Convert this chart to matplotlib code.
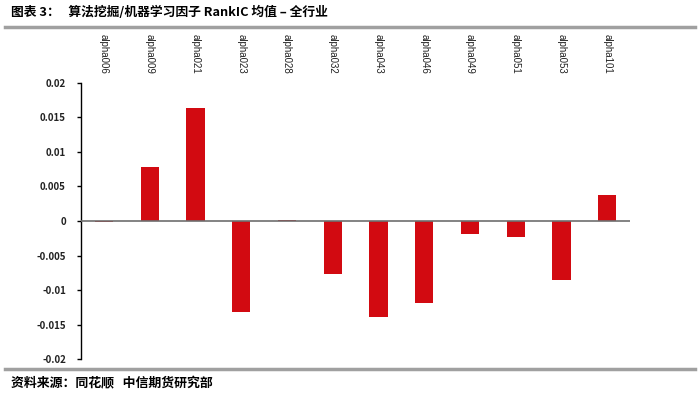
import matplotlib
matplotlib.use('Agg')
import matplotlib.pyplot as plt
from matplotlib.lines import Line2D

plt.rcParams['font.family'] = ['Noto Sans CJK SC', 'DejaVu Sans']

factors = ['alpha006', 'alpha009', 'alpha021', 'alpha023', 'alpha028', 'alpha032',
           'alpha043', 'alpha046', 'alpha049', 'alpha051', 'alpha053', 'alpha101']
rank_ic = [-0.0001, 0.0078, 0.0163, -0.0132, 0.0001, -0.0077,
           -0.0139, -0.0119, -0.0019, -0.0023, -0.0086, 0.0038]
yticks = [0.02, 0.015, 0.01, 0.005, 0, -0.005, -0.01, -0.015, -0.02]

fig = plt.figure(figsize=(7, 3.95), dpi=100)
ax = fig.add_axes([0.116, 0.091, 0.784, 0.699])

x = range(len(factors))
ax.bar(x, rank_ic, 0.4, color='#D20A11', zorder=2)
ax.axhline(0, color='#6e6e6e', lw=1.2, zorder=3)

ax.set_xlim(-0.5, len(factors) - 0.5)
ax.set_ylim(-0.02, 0.02)
ax.set_yticks(yticks)
ax.set_yticklabels([str(t) for t in yticks], fontsize=7, fontweight='bold', color='#222222')
ax.tick_params(axis='y', direction='out', length=3, width=1, pad=8)

ax.set_xticks(list(x))
ax.set_xticklabels(factors, rotation=-90, fontsize=7, family=['Liberation Sans'],
                   color='#222222')
ax.tick_params(axis='x', top=False, bottom=False, labeltop=True, labelbottom=False, pad=3)

for s in ['top', 'right', 'bottom']:
    ax.spines[s].set_visible(False)
ax.spines['left'].set_linewidth(1.0)

# header / footer
fig.text(0.016, 0.968, '图表 3：   算法挖掘/机器学习因子 RankIC 均值 – 全行业',
         fontsize=9.2, fontweight='bold', va='center', ha='left')
fig.add_artist(Line2D([0.007, 0.993], [0.932, 0.932], color='#a0a0a0', lw=2.5,
                      transform=fig.transFigure))
fig.add_artist(Line2D([0.007, 0.993], [0.066, 0.066], color='#a0a0a0', lw=2.5,
                      transform=fig.transFigure))
fig.text(0.016, 0.03, '资料来源：同花顺   中信期货研究部',
         fontsize=9.3, fontweight='bold', va='center', ha='left')

fig.savefig('out.png', dpi=100)
